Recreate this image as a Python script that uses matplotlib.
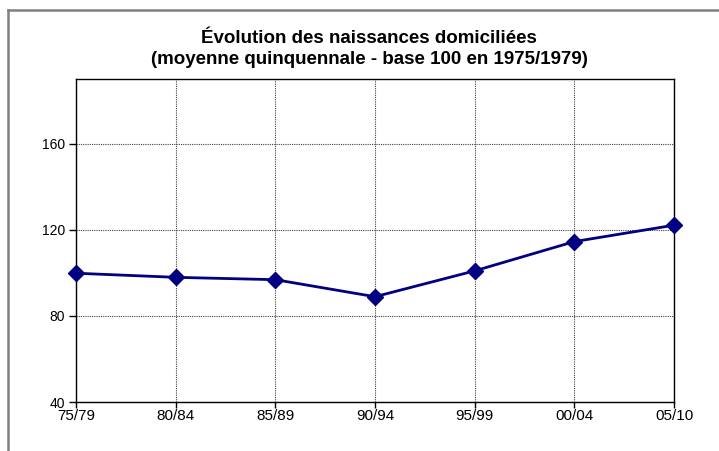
import matplotlib.pyplot as plt
from matplotlib.lines import Line2D

plt.rcParams['font.family'] = ['Liberation Sans', 'DejaVu Sans']

periodes = ["75/79", "80/84", "85/89", "90/94", "95/99", "00/04", "05/10"]
indice = [99.8, 97.9, 96.8, 88.9, 100.9, 114.5, 122.1]
yticks = [40, 80, 120, 160]

fig = plt.figure(figsize=(7.19, 4.51), dpi=100)
ax = fig.add_axes([76/719, 1 - 402/451, (674-76)/719, (402-79)/451])

x = list(range(len(periodes)))
ax.plot(x, indice, color="#000080", lw=2, marker="D", ms=8.5, clip_on=False, zorder=5)

ax.set_xlim(0, len(periodes) - 1)
ax.set_ylim(40, 190)
ax.set_xticks(x)
ax.set_xticklabels(periodes)
ax.set_yticks(yticks)
ax.tick_params(axis="x", labelsize=11, length=4, width=1, pad=1, colors="black")
ax.tick_params(axis="y", labelsize=10, length=5, width=1, pad=3, colors="black")
ax.grid(True, color="#404040", linestyle=(0, (1, 1)), linewidth=0.8)
for s in ax.spines.values():
    s.set_color("black")
    s.set_linewidth(1)

fig.text(369/719, 1 - 49/451,
         "Évolution des naissances domiciliées\n(moyenne quinquennale - base 100 en 1975/1979)",
         ha="center", va="center", fontsize=13.5, fontweight="bold", linespacing=1.28)

# cadre du graphique (haut et gauche)
fig.add_artist(Line2D([8/719, 1], [1 - 9.5/451, 1 - 9.5/451], transform=fig.transFigure, color="#808080", lw=1.8))
fig.add_artist(Line2D([8/719, 8/719], [0, 1 - 9.5/451], transform=fig.transFigure, color="#808080", lw=1.8))

fig.savefig("out.png", dpi=100)
